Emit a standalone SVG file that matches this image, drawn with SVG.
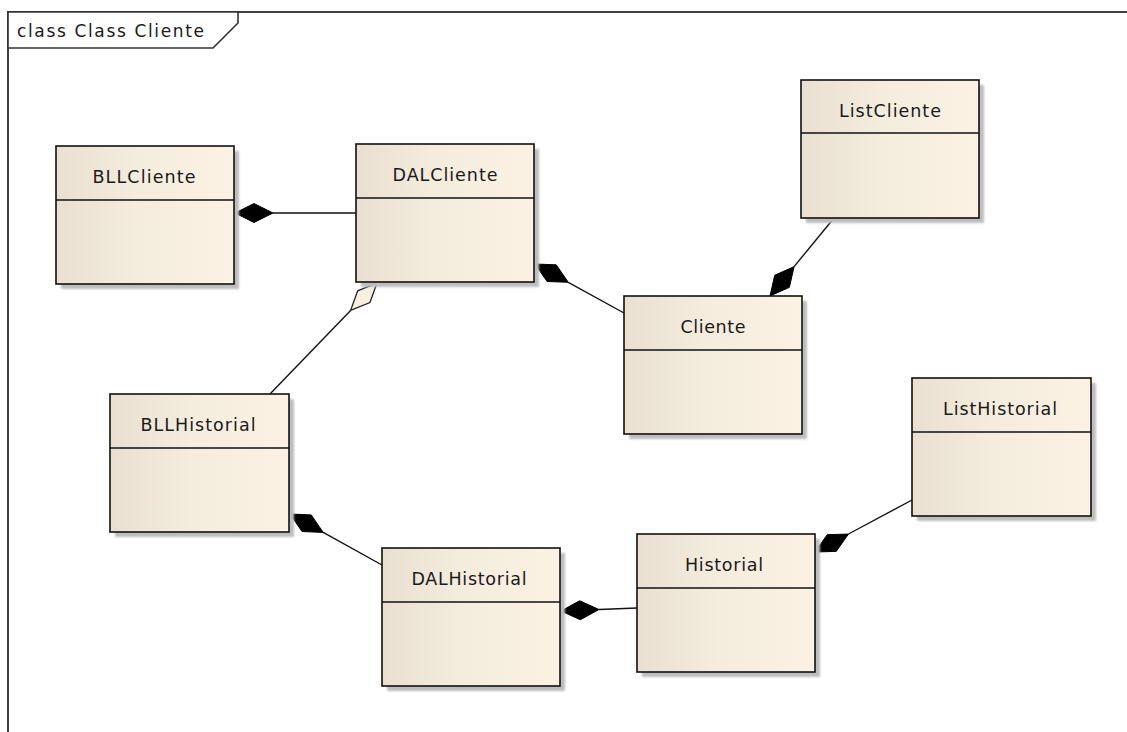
<svg xmlns="http://www.w3.org/2000/svg" width="1127" height="732" viewBox="0 0 1127 732">
  <defs>
    <linearGradient id="boxFill" x1="0" y1="0" x2="1" y2="0">
      <stop offset="0" stop-color="#e9e0d1"/>
      <stop offset="0.45" stop-color="#f4ecdd"/>
      <stop offset="1" stop-color="#fbf2e3"/>
    </linearGradient>
    <filter id="soft" x="-10%" y="-10%" width="130%" height="130%">
      <feGaussianBlur stdDeviation="1.2"/>
    </filter>
  </defs>
  <style>
    .frame { fill: none; stroke: #404040; stroke-width: 2; }
    .tab { fill: #ffffff; stroke: #333333; stroke-width: 1.6; }
    .tabText { font-family: "DejaVu Sans", "Liberation Sans", sans-serif; font-size: 17px; fill: #1a1a1a; }
    .shadow { fill: #bdbdbd; filter: url(#soft); }
    .box { fill: url(#boxFill); stroke: #111; stroke-width: 1.6; }
    .div { stroke: #111; stroke-width: 1.6; }
    .name { font-family: "DejaVu Sans", "Liberation Sans", sans-serif; font-size: 17.5px; fill: #1a1a1a; text-anchor: middle; }
    .conn { fill: none; stroke: #111; stroke-width: 1.4; }
    .composite { fill: #000; stroke: #000; stroke-width: 1; stroke-linejoin: round; }
    .aggregate { fill: #f6f0de; stroke: #222; stroke-width: 1.3; }
  </style>

  <rect width="1127" height="732" fill="#ffffff"/>

  <!-- diagram frame and its name tab -->
  <path class="frame" d="M8,732 L8,12 L1127,12"/>
  <polygon class="tab" points="8,12 238,12 238,23 213,48 8,48"/>
  <text class="tabText" x="17" y="37" textLength="187" lengthAdjust="spacing">class Class Cliente</text>

  <!-- associations: the diamond sits on the whole (owner) end -->
  <g id="connectors">
    <line class="conn" x1="273" y1="213" x2="356" y2="213"/>
    <polygon class="composite" points="235,213 254,222.5 273,213 254,203.5"/>

    <line class="conn" x1="568.3" y1="282.3" x2="624" y2="313"/>
    <polygon class="composite" points="535,264 547.06,281.48 568.29,282.33 556.22,264.84"/>

    <line class="conn" x1="794.1" y1="266.6" x2="834" y2="218"/>
    <polygon class="composite" points="770,296 789.39,287.33 794.1,266.62 774.71,275.29"/>

    <line class="conn" x1="350.6" y1="310.4" x2="270" y2="394"/>
    <polygon class="aggregate" points="377,283 357.7,290.78 350.63,310.35 369.94,302.58"/>

    <line class="conn" x1="323.2" y1="532.4" x2="382" y2="565"/>
    <polygon class="composite" points="290,514 302.01,531.52 323.23,532.42 311.23,514.9"/>

    <line class="conn" x1="599" y1="609.5" x2="637" y2="608"/>
    <polygon class="composite" points="561,611 580.35,619.74 598.97,609.5 579.61,600.76"/>

    <line class="conn" x1="848.5" y1="534" x2="912" y2="500"/>
    <polygon class="composite" points="815,552 836.24,551.39 848.49,534.05 827.26,534.65"/>
  </g>

  <g id="BLLCliente">
    <rect class="shadow" x="61" y="151" width="178" height="138"/>
    <rect class="box" x="56" y="146" width="178" height="138"/>
    <line class="div" x1="56" y1="200" x2="234" y2="200"/>
    <text class="name" x="144" y="183" textLength="103" lengthAdjust="spacing">BLLCliente</text>
  </g>

  <g id="DALCliente">
    <rect class="shadow" x="361" y="149" width="178" height="138"/>
    <rect class="box" x="356" y="144" width="178" height="138"/>
    <line class="div" x1="356" y1="198" x2="534" y2="198"/>
    <text class="name" x="445" y="181" textLength="105" lengthAdjust="spacing">DALCliente</text>
  </g>

  <g id="ListCliente">
    <rect class="shadow" x="806" y="85" width="178" height="138"/>
    <rect class="box" x="801" y="80" width="178" height="138"/>
    <line class="div" x1="801" y1="133" x2="979" y2="133"/>
    <text class="name" x="890" y="117" textLength="102" lengthAdjust="spacing">ListCliente</text>
  </g>

  <g id="Cliente">
    <rect class="shadow" x="629" y="301" width="178" height="138"/>
    <rect class="box" x="624" y="296" width="178" height="138"/>
    <line class="div" x1="624" y1="350" x2="802" y2="350"/>
    <text class="name" x="713" y="333" textLength="65" lengthAdjust="spacing">Cliente</text>
  </g>

  <g id="BLLHistorial">
    <rect class="shadow" x="115" y="399" width="179" height="138"/>
    <rect class="box" x="110" y="394" width="179" height="138"/>
    <line class="div" x1="110" y1="448" x2="289" y2="448"/>
    <text class="name" x="198" y="431" textLength="115" lengthAdjust="spacing">BLLHistorial</text>
  </g>

  <g id="DALHistorial">
    <rect class="shadow" x="387" y="553" width="178" height="138"/>
    <rect class="box" x="382" y="548" width="178" height="138"/>
    <line class="div" x1="382" y1="602" x2="560" y2="602"/>
    <text class="name" x="469" y="585" textLength="115" lengthAdjust="spacing">DALHistorial</text>
  </g>

  <g id="Historial">
    <rect class="shadow" x="642" y="539" width="178" height="138"/>
    <rect class="box" x="637" y="534" width="178" height="138"/>
    <line class="div" x1="637" y1="588" x2="815" y2="588"/>
    <text class="name" x="724" y="571" textLength="78" lengthAdjust="spacing">Historial</text>
  </g>

  <g id="ListHistorial">
    <rect class="shadow" x="917" y="383" width="179" height="138"/>
    <rect class="box" x="912" y="378" width="179" height="138"/>
    <line class="div" x1="912" y1="432" x2="1091" y2="432"/>
    <text class="name" x="1000" y="415" textLength="114" lengthAdjust="spacing">ListHistorial</text>
  </g>
</svg>
